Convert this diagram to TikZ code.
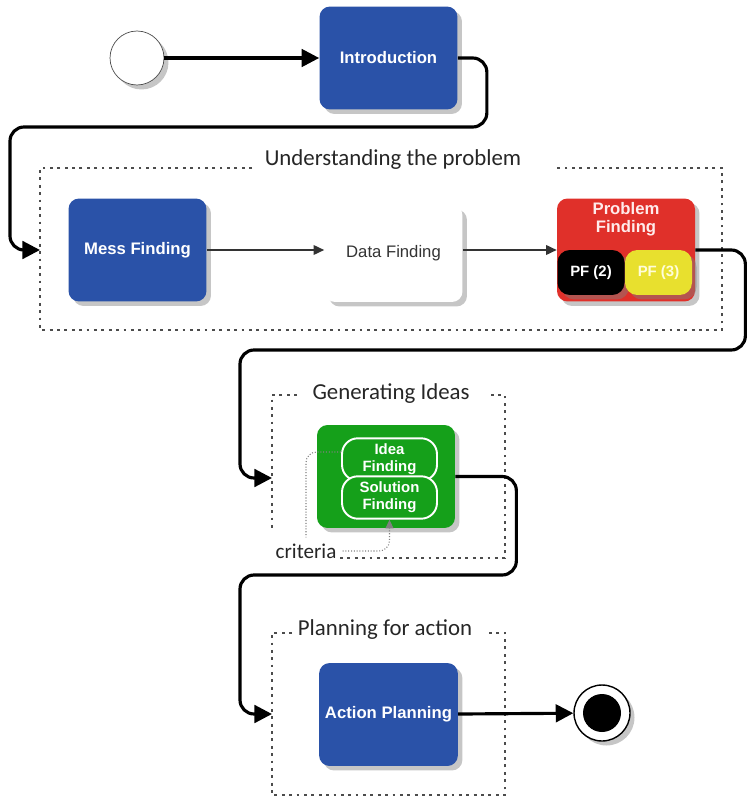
\documentclass[tikz,border=0pt]{standalone}
\usepackage{fontspec}
\setmainfont{Liberation Sans}
\newfontfamily\calib{Carlito}
\usepackage{xcolor}
\usetikzlibrary{shadows,arrows.meta}
\definecolor{stepblue}{HTML}{2A52A8}
\definecolor{probred}{HTML}{E0302A}
\definecolor{ideagreen}{HTML}{15A01A}
\definecolor{pfyellow}{HTML}{E8E02E}

\begin{document}
\begin{tikzpicture}[x=0.02cm,y=-0.02cm,
  every node/.style={font=\fontsize{9}{10}\selectfont},
  blockshadow/.style={drop shadow={shadow xshift=0.09cm,shadow yshift=-0.09cm,fill=black!50,opacity=0.45}},
  stepbox/.style={rounded corners=6pt,minimum width=2.76cm,minimum height=2.06cm,text=white,
    font=\fontsize{9.5}{10}\selectfont\bfseries,blockshadow},
  pfbox/.style={rounded corners=7pt,minimum width=1.34cm,minimum height=0.9cm,text=white,
    font=\fontsize{8.5}{10}\selectfont\bfseries,blockshadow},
  innerbox/.style={rounded corners=9pt,draw=white,line width=1.1pt,fill=ideagreen,minimum width=1.9cm,
    text=white,align=center,font=\fontsize{8.5}{9.5}\selectfont\bfseries},
  flow/.style={line width=1.8pt,rounded corners=8pt,-{Triangle[length=10pt,width=10pt]}},
  thinflow/.style={line width=0.8pt,black!80,-{Triangle[length=6pt,width=5.5pt]}},
  groupline/.style={black!70,line width=0.9pt,dash pattern=on 1.6pt off 2.6pt},
  grouptitle/.style={font=\calib\fontsize{13}{15}\selectfont,text=black!85},
  critline/.style={black!50,densely dotted,line width=0.6pt,rounded corners=6pt}]
  \useasboundingbox (0,0) rectangle (750,800);

  \node[circle,draw=black!70,fill=white,minimum size=1.08cm,blockshadow] (start) at (137,58) {};
  \node[stepbox,fill=stepblue] (intro) at (388.5,58) {Introduction};
  \draw[flow] (start) -- (intro);

  % understanding the problem
  \draw[groupline] (252,168) -- (40,168) -- (40,330) -- (722,330) -- (722,168) -- (555,168);
  \node[grouptitle] (gtitle1) at (393,160) {Understanding the problem};
  \coordinate (g1in) at (40,250);
  \node[stepbox,fill=stepblue] (mess) at (137.5,250) {Mess Finding};
  \node[stepbox,fill=white,text=black!80,font=\fontsize{9.5}{10}\selectfont,minimum height=1.94cm] (data) at (393.5,253.5) {Data Finding};
  \node[stepbox,fill=probred] (prob) at (626,250) {};
  \node[font=\fontsize{9.5}{10.5}\selectfont\bfseries,text=white!92!red,align=center] (probtxt) at (626,219) {Problem\\Finding};
  \node[pfbox,fill=black] (pf2) at (591,272.5) {PF (2)};
  \node[pfbox,fill=pfyellow,text=yellow!15] (pf3) at (658.5,272.5) {PF (3)};
  \draw[thinflow] (mess.east) -- (mess.east -| data.west);
  \draw[thinflow] (data.east |- prob.west) -- (prob.west);
  \draw[flow] (intro.east) -- ++(29,0) |- (10,127) |- (g1in);

  % generating ideas
  \draw[groupline] (297,395) -- (272,395) -- (272,530);
  \draw[groupline] (340,558) -- (505,558) -- (505,395) -- (488,395);
  \node[grouptitle] (gtitle2) at (391,394) {Generating Ideas};
  \coordinate (g2in) at (272,478);
  \node[stepbox,fill=ideagreen] (green) at (386,476.5) {};
  \node[innerbox,minimum height=0.7cm] (idea) at (389.5,459.5) {Idea\\Finding};
  \node[innerbox,minimum height=0.74cm] (sol) at (389.5,497.5) {Solution\\Finding};
  \node[font=\calib\fontsize{12}{14}\selectfont,text=black!85] (crit) at (306,551) {criteria};
  \draw[critline] ([yshift=0.15cm]idea.west) -| (crit.north);
  \draw[critline,-{Triangle[length=5pt,width=4.5pt]}] (crit.east) -| (sol.south);
  \draw[flow] (prob.east) -- ++(50,0) |- (240,350) |- (g2in);

  % planning for action
  \draw[groupline] (292,633) -- (272,633) -- (272,795) -- (505,795) -- (505,633) -- (485,633);
  \node[grouptitle] (gtitle3) at (385,630) {Planning for action};
  \coordinate (g3in) at (272,714);
  \node[stepbox,fill=stepblue] (action) at (388.5,714.5) {Action Planning};
  \node[circle,draw=black,line width=0.8pt,fill=white,minimum size=1.12cm,blockshadow] (finish) at (602,713) {};
  \node[circle,fill=black,minimum size=0.76cm] (finishdot) at (602,713) {};
  \draw[flow] (green.east) -- ++(61,0) |- (240,575) |- (g3in);
  \draw[flow] (action) -- (finish);
\end{tikzpicture}
\end{document}
